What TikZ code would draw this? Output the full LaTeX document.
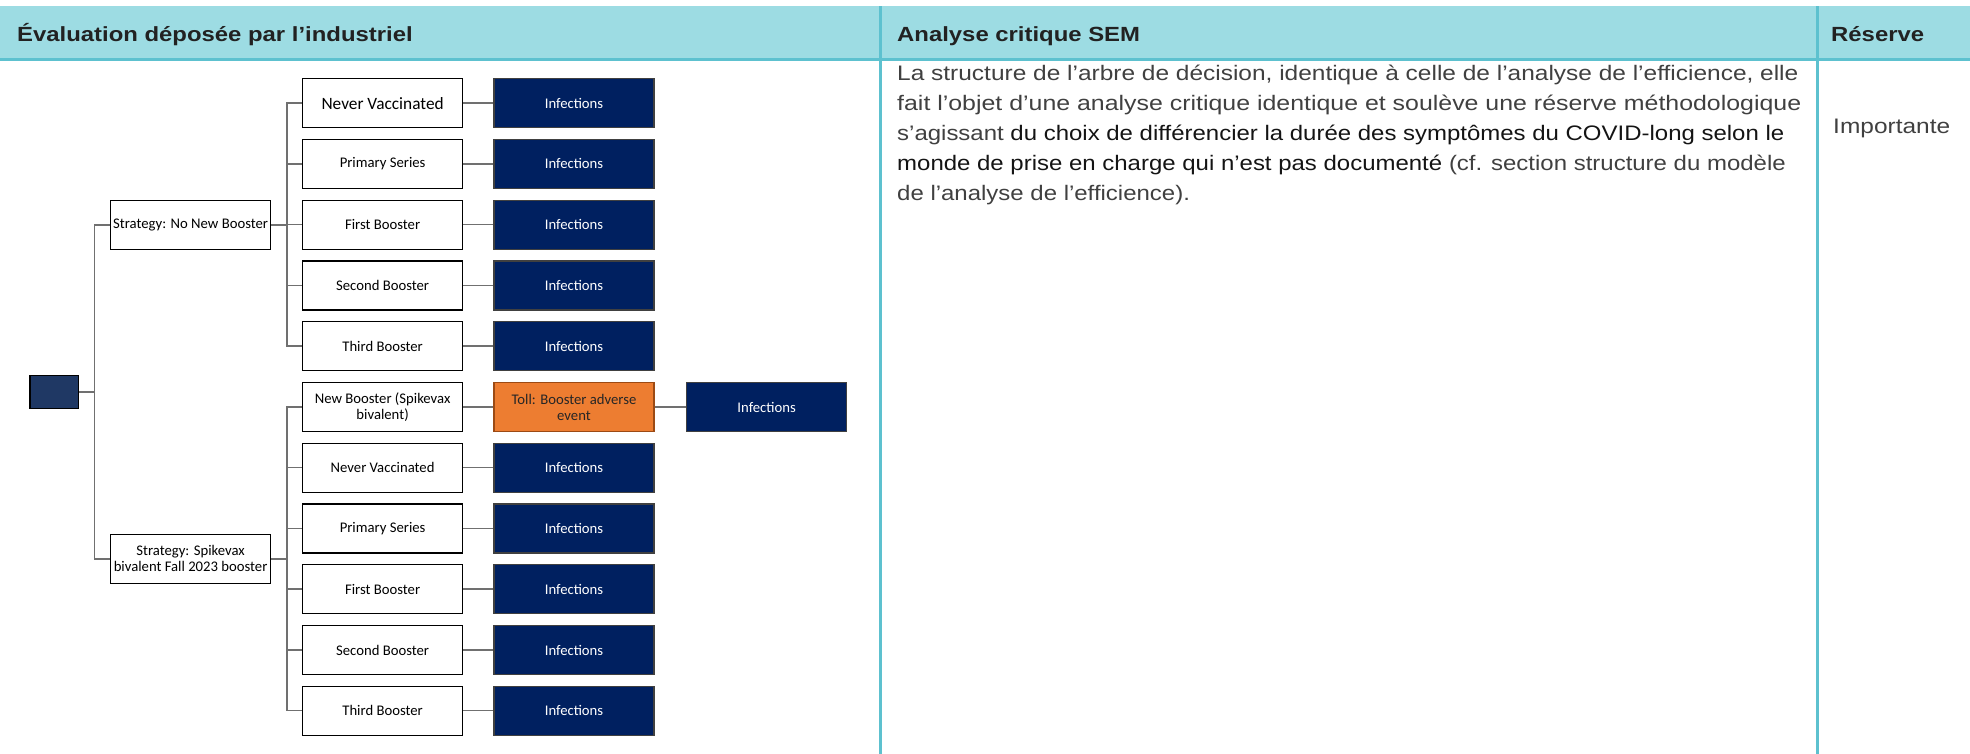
\documentclass[tikz,border=0pt]{standalone}
\usepackage{fontspec}
\setmainfont{Liberation Sans}[FakeStretch=1.165]
\newfontfamily\treefont{Carlito}
\usetikzlibrary{positioning}

\definecolor{headfill}{HTML}{9DDCE3}
\definecolor{rulecyan}{HTML}{5DC1CF}
\definecolor{navy}{HTML}{002060}
\definecolor{rootnavy}{HTML}{1F3864}
\definecolor{tollorange}{HTML}{ED7D31}
\definecolor{tolledge}{HTML}{9C4A14}
\definecolor{linkgray}{HTML}{707070}
\definecolor{bodygray}{HTML}{404040}
\definecolor{bodydark}{HTML}{141414}
\definecolor{headtext}{HTML}{222222}

\begin{document}
\begin{tikzpicture}[x=1pt,y=-1pt,
  headtxt/.style={anchor=base west, inner sep=0pt, text=headtext,
    font=\bfseries\fontsize{20.5}{24}\selectfont},
  bodytxt/.style={anchor=base west, inner sep=0pt, text=bodygray,
    font=\fontsize{21}{30}\selectfont},
  treebox/.style={draw=black, line width=1.1pt, fill=white, inner sep=1pt,
    minimum width=160pt, minimum height=49pt, align=center,
    font=\treefont\fontsize{14.7}{16}\selectfont},
  stratbox/.style={treebox, minimum width=159.6pt},
  infbox/.style={treebox, fill=navy, draw=black!75, text=white},
  tollbox/.style={treebox, fill=tollorange, draw=tolledge, text=black!85},
  rootbox/.style={draw=black, line width=1.1pt, fill=rootnavy,
    minimum width=48.7pt, minimum height=33.7pt, inner sep=0pt},
  link/.style={draw=linkgray, line width=1.5pt}
]
\useasboundingbox (0,0) rectangle (1970,754);

% table header band and column rules
\fill[headfill] (0,6) rectangle (1970,58);
\fill[rulecyan] (0,58) rectangle (1970,61);
\fill[rulecyan] (879,6) rectangle (882,754);
\fill[rulecyan] (1816,6) rectangle (1819,754);

\node[headtxt] (h1) at (17,41.7) {Évaluation déposée par l’industriel};
\node[headtxt] (h2) at (897,41.7) {Analyse critique SEM};
\node[headtxt] (h3) at (1831,41.7) {Réserve};

% critical analysis text
\node[bodytxt] (t1) at (897,81) {La structure de l’arbre de décision, identique à celle de l’analyse de l’efficience, elle};
\node[bodytxt] (t2) at (897,111) {\scalebox{1.018}[1]{fait l’objet d’une analyse critique identique et soulève une réserve méthodologique}};
\node[bodytxt] (t3) at (897,141) {\scalebox{0.98}[1]{s’agissant \textcolor{bodydark}{du choix de différencier la durée des symptômes du COVID-long selon le}}};
\node[bodytxt] (t4) at (897,171) {\scalebox{0.98}[1]{\textcolor{bodydark}{monde de prise en charge qui n’est pas documenté} (cf. section structure du modèle}};
\node[bodytxt] (t5) at (897,201) {\scalebox{0.98}[1]{de l’analyse de l’efficience).}};
\node[bodytxt] (imp) at (1833,134) {Importante};

% decision tree
\node[rootbox] (root) at (54.3,392) {};
\node[stratbox] (s1) at (190.6,224.8) {Strategy: No New Booster};
\node[stratbox] (s2) at (190.6,558.8) {Strategy: Spikevax\\bivalent Fall 2023 booster};

% branches of the first strategy
\node[treebox, font=\treefont\fontsize{17.3}{19}\selectfont] (a1) at (382.6,103.2) {Never Vaccinated};
\node[treebox] (a2) at (382.6,163.9) {Primary Series};
\node[treebox] (a3) at (382.6,224.7) {First Booster};
\node[treebox] (a4) at (382.6,285.5) {Second Booster};
\node[treebox] (a5) at (382.6,346.2) {Third Booster};

% branches of the second strategy
\node[treebox] (b1) at (382.6,407.0) {New Booster (Spikevax\\bivalent)};
\node[treebox] (b2) at (382.6,467.7) {Never Vaccinated};
\node[treebox] (b3) at (382.6,528.5) {Primary Series};
\node[treebox] (b4) at (382.6,589.2) {First Booster};
\node[treebox] (b5) at (382.6,650.0) {Second Booster};
\node[treebox] (b6) at (382.6,710.7) {Third Booster};

% outcome nodes
\foreach \n in {a1,a2,a3,a4,a5,b2,b3,b4,b5,b6}{
  \node[infbox, right=30.3pt of \n] (i\n) {Infections};
  \draw[link] (\n.east) -- (i\n.west);
}
\node[tollbox, right=30.3pt of b1] (toll) {Toll: Booster adverse\\event};
\node[infbox, right=31.5pt of toll] (itoll) {Infections};
\draw[link] (b1.east) -- (toll.west);
\draw[link] (toll.east) -- (itoll.west);

% connectors
\coordinate (rj) at (94.7,392);
\draw[link] (root.east) -- (rj);
\draw[link] (s1.west) -| (rj) |- (s2.west);

\draw[link] (s1.east) -- ++(16.1,0) coordinate (j1);
\foreach \n in {a1,a2,a3,a4,a5}{ \draw[link] (j1) |- (\n.west); }
\draw[link] (s2.east) -- ++(16.1,0) coordinate (j2);
\foreach \n in {b1,b2,b3,b4,b5,b6}{ \draw[link] (j2) |- (\n.west); }
\end{tikzpicture}
\end{document}
